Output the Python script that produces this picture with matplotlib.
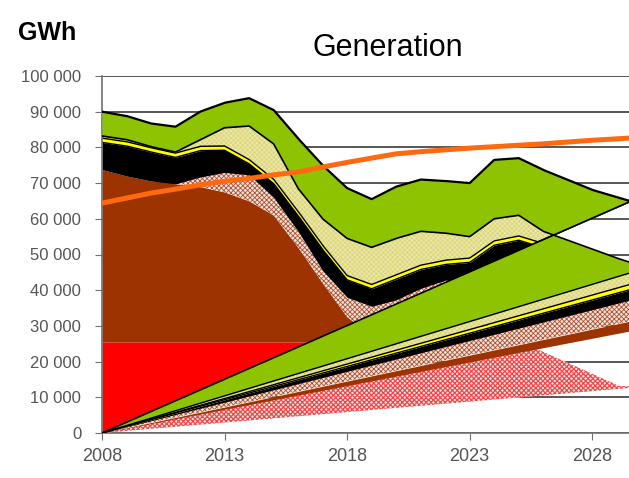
import numpy as np
import matplotlib
matplotlib.use("Agg")
import matplotlib.pyplot as plt
from matplotlib.ticker import FuncFormatter

plt.rcParams["font.family"] = ["Liberation Sans", "DejaVu Sans"]
plt.rcParams["hatch.linewidth"] = 0.6

# existing plants, cumulative tops in GWh (back stack)
years = list(range(2008, 2031))
red_top = [25500] * 23
brown_top = [73800, 72000, 70600, 69800, 69000, 67500, 65000, 61000, 52000, 42000, 32500, 27500,
             26000, 25800, 25600, 25500, 25500, 25500, 25500, 25500, 25500, 25500, 25500]
coal_top = [73800, 72000, 70600, 69800, 71700, 73000, 72300, 66000, 56500, 45500, 38000, 35500,
            37300, 40500, 42800, 43500, 47500, 49000, 47000, 45000, 43000, 41000, 40000]
black_top = [81400, 80400, 78700, 77200, 79100, 79200, 75400, 69900, 60900, 51400, 42900, 40400,
             43100, 45800, 47200, 47800, 52600, 54000, 51900, 49900, 47900, 45900, 44400]
yellow_top = [82600, 81600, 79900, 78400, 80300, 80400, 76600, 71100, 62100, 52600, 44100, 41600,
              44300, 47000, 48400, 49000, 53800, 55200, 53100, 51100, 49100, 47100, 45600]
gas_top = [83200, 82200, 80200, 78700, 82100, 85500, 86000, 81000, 68500, 60000, 54500, 52000,
           54500, 56500, 56000, 55000, 60000, 61000, 56500, 54000, 51500, 49000, 46800]
total_top = [90000, 88800, 86700, 85800, 90000, 92500, 93800, 90500, 82500, 75000, 68600, 65500,
             69000, 71000, 70600, 70000, 76500, 77000, 73700, 70900, 68100, 66100, 64000]

# new plants (front stack), boundaries at 2008 and 2030
new_x = [2008, 2030]
new_base = [0, 12900]
new_brown_bottom = [0, 29200]
new_brown_top = [0, 32000]
new_black_bottom = [0, 38000]
new_yellow_bottom = [0, 41000]
new_gas_bottom = [0, 42500]
new_green_bottom = [0, 45800]
new_top = [0, 66200]
new_nuclear_x = [2008, 2025.75, 2029.1, 2030]
new_nuclear_top = [0, 23500, 13200, 12900]

# demand line
demand = [64400, 65800, 67200, 68300, 69500, 70500, 71300, 72300, 73100, 74500, 75800, 77000,
          78200, 78800, 79300, 79800, 80200, 80600, 81000, 81500, 82000, 82400, 82800]

GREEN = "#8DC300"
BROWN = "#9C3300"
RED = "#FF0000"
KHAKI = "#DCD77A"
COAL = dict(facecolor="#F6E4DE", edgecolor="#B0502E", hatch="xxxxxxx")
GAS = dict(facecolor=KHAKI, edgecolor="#ECE8AE", hatch="xxxxxxx")

xg = np.linspace(2008, 2029.5, 900)


def g(xs, vs):
    return np.interp(xg, xs, vs)


F = g(new_x, new_top)
LT = g(years, gas_top)

fig = plt.figure(figsize=(6.29, 4.78), dpi=100)
ax = fig.add_axes([102 / 629, 45 / 478, 527 / 629, 357 / 478])

# back stack, clipped above the new-plant wedge
back = [
    (None, red_top, dict(color=RED)),
    (red_top, brown_top, dict(color=BROWN)),
    (brown_top, coal_top, COAL),
    (coal_top, black_top, dict(color="black")),
    (black_top, yellow_top, dict(color="#FFFF00")),
    (yellow_top, gas_top, GAS),
]
for lo, hi, kw in back:
    lo_g = F if lo is None else np.maximum(g(years, lo), F)
    hi_g = np.maximum(g(years, hi), F)
    ax.fill_between(xg, lo_g, hi_g, lw=0, zorder=2, **kw)
for arr in [yellow_top, black_top]:
    ax.plot(xg, np.maximum(g(years, arr), F), color="black", lw=1.0, zorder=2.5)

# front stack
base = g(new_x, new_base)
nb = g(new_x, new_brown_bottom)
nuc_top = np.minimum(g(new_nuclear_x, new_nuclear_top), nb)
plt.rcParams["hatch.linewidth"] = 0.9
ax.fill_between(xg, base, np.maximum(nuc_top, base), facecolor="#FFE6E6", edgecolor="#F04848",
                hatch="xxxxxxx", lw=0, zorder=3)
plt.rcParams["hatch.linewidth"] = 0.6
ax.fill_between(xg, nb, g(new_x, new_brown_top), color=BROWN, lw=0, zorder=3)
ax.fill_between(xg, g(new_x, new_brown_top), g(new_x, new_black_bottom), lw=0, zorder=3, **COAL)
ax.fill_between(xg, g(new_x, new_black_bottom), g(new_x, new_yellow_bottom), color="black",
                lw=0, zorder=3)
ax.fill_between(xg, g(new_x, new_yellow_bottom), g(new_x, new_gas_bottom), color="#FFFF00",
                lw=0, zorder=3)
ax.fill_between(xg, g(new_x, new_gas_bottom), g(new_x, new_green_bottom), lw=0, zorder=3, **GAS)
ax.fill_between(xg, g(new_x, new_green_bottom), np.minimum(F, LT), color=GREEN, lw=0, zorder=3)
for arr in [new_green_bottom, new_gas_bottom, new_yellow_bottom]:
    ax.plot(xg, g(new_x, arr), color="black", lw=1.0, zorder=3.5)

# back green on top
ax.fill_between(xg, np.maximum(LT, F), g(years, total_top), color=GREEN, lw=0, zorder=3)
ax.plot(xg, F, color="black", lw=1.2, zorder=4)
ax.plot(xg, LT, color="black", lw=1.2, zorder=4)
ax.plot(xg, g(years, total_top), color="black", lw=1.6, zorder=4)

ax.plot(years, demand, color="#FF6A10", lw=3.6, solid_capstyle="butt", zorder=5)

ax.set_xlim(2008, 2029.5)
ax.set_ylim(0, 100000)
ax.set_xticks([2008, 2013, 2018, 2023, 2028])
ax.set_yticks(range(0, 100001, 10000))
ax.yaxis.set_major_formatter(FuncFormatter(lambda v, p: f"{int(v):,}".replace(",", " ")))
ax.grid(axis="y", color="#3A3A3A", lw=1.2, zorder=0.5)
ax.set_axisbelow(True)
for s in ["top", "right"]:
    ax.spines[s].set_visible(False)
for s in ["left", "bottom"]:
    ax.spines[s].set_color("#707070")
    ax.spines[s].set_linewidth(1.2)
ax.tick_params(axis="y", colors="#707070", labelcolor="#555555", labelsize=12, length=5, pad=10)
ax.tick_params(axis="x", colors="#707070", labelcolor="#555555", labelsize=13, length=5, pad=6)

fig.text(18 / 629, 1 - 40 / 478, "GWh", fontsize=18, fontweight="bold")
fig.text(388 / 629, 1 - 56 / 478, "Generation", fontsize=22, ha="center")

fig.savefig("out.png", dpi=100)
